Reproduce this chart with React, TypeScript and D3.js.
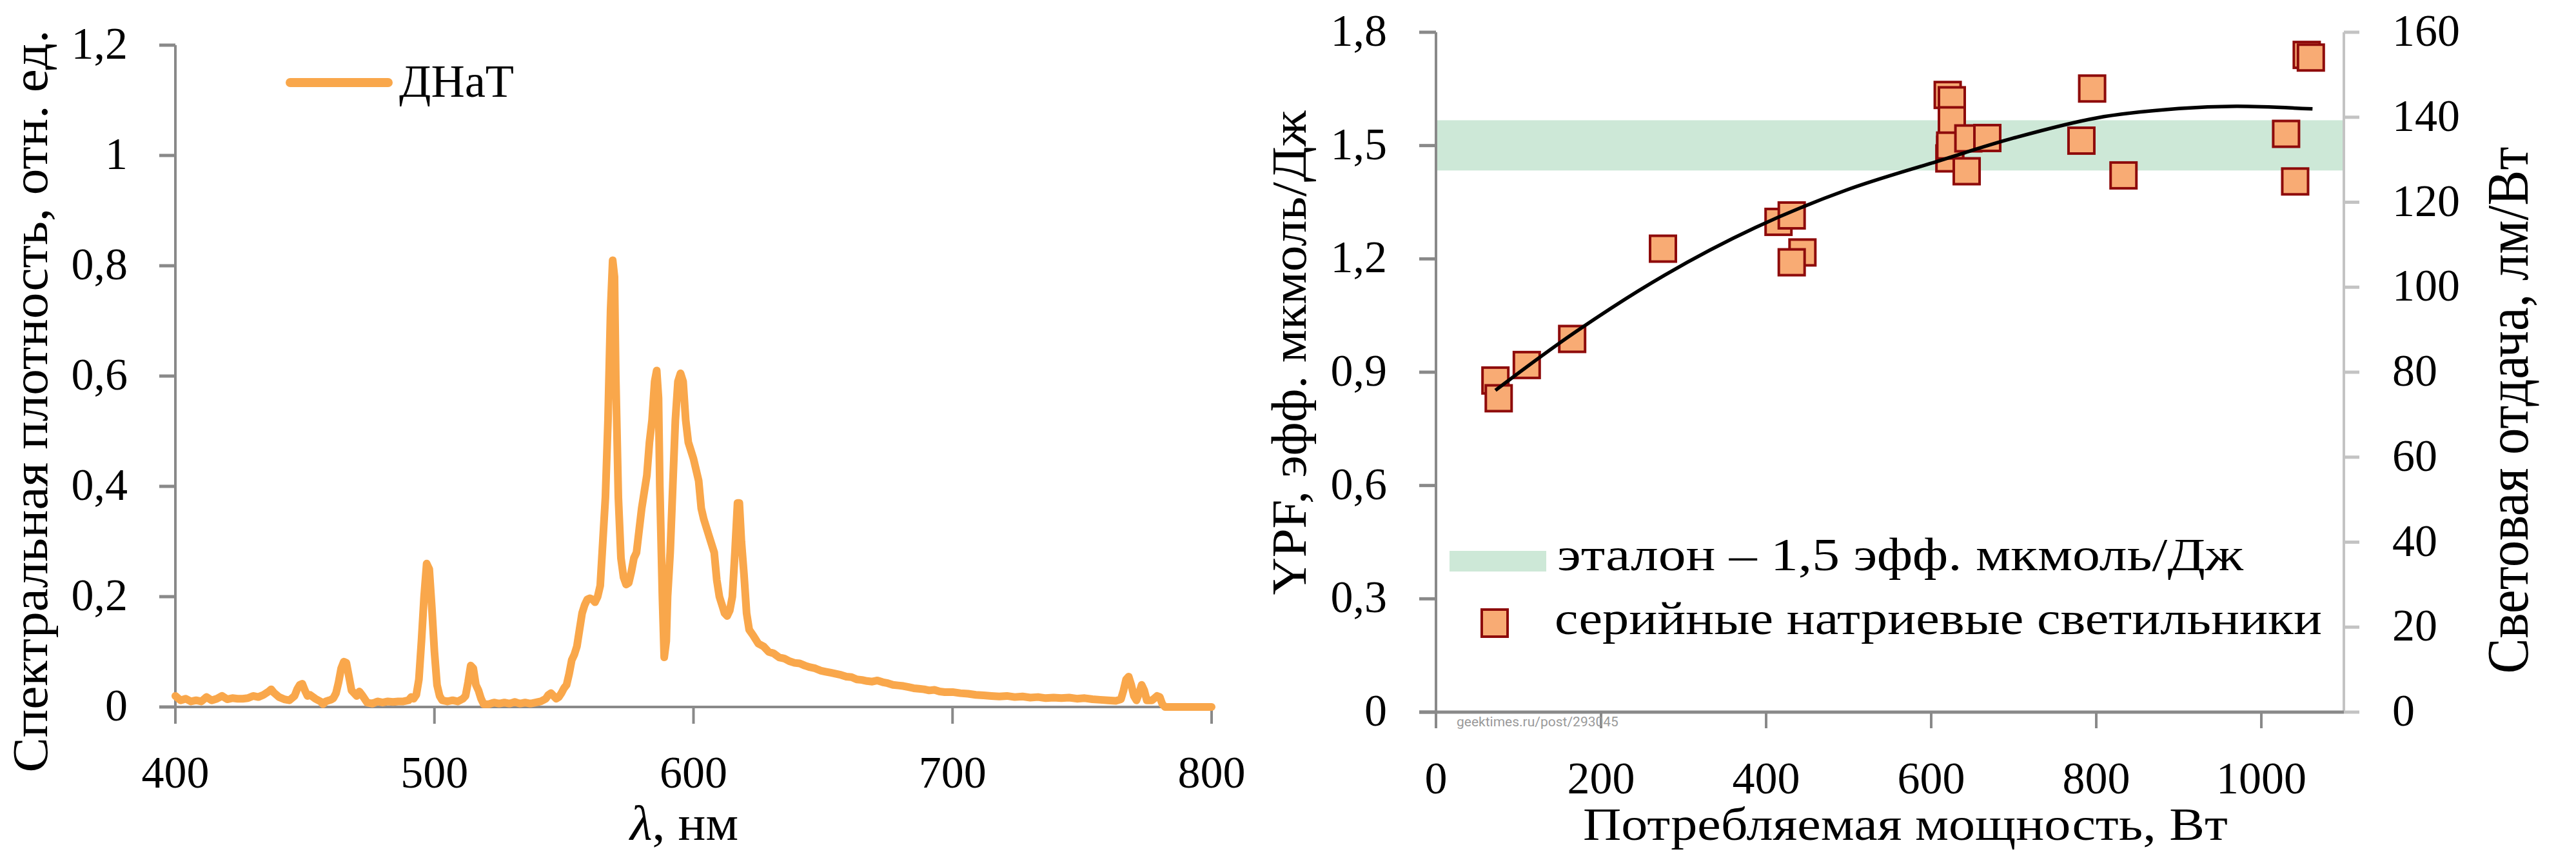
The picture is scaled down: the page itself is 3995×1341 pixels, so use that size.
import React from "react";
import * as d3 from "d3";

// ---- Left chart: HPS (ДНаТ) spectrum ----
const wavelengths = [
  400, 402, 404, 406, 408, 410, 412, 414, 416, 418, 420, 422, 424, 426, 428, 430, 432, 434, 436, 437, 438, 440, 442, 444, 446, 447, 448, 449, 450, 451, 452, 454, 456, 457, 458, 460, 461, 462, 463, 464, 465, 466, 467, 468, 469, 470, 471, 472, 473, 474, 476, 478, 480, 482, 484, 486, 488, 490, 491, 492, 493, 494, 495, 496, 497, 498, 499, 500, 501, 502, 503, 505, 507, 509, 511, 512, 513, 514, 515, 516, 517, 518, 519, 521, 523, 525, 527, 529, 531, 533, 535, 537, 539, 541, 543, 544, 545, 546, 547, 548, 549, 550, 551, 552, 553, 554, 555, 556, 557, 558, 559, 560, 561, 562, 563, 564, 565, 566, 567, 568, 568.8, 569.5, 570, 571, 572, 573, 574, 575, 576, 577, 578, 579, 580, 581, 582, 583, 584, 585, 585.8, 586.5, 587, 588, 588.7, 589.5, 590, 591, 592, 593, 594, 595, 596, 597, 598, 600, 602, 603, 604, 606, 608, 609, 610, 611, 612, 613, 614, 615, 616, 617, 617.7, 618.5, 619.5, 620.5, 621.5, 623, 625, 627, 629, 631, 633, 635, 637, 639, 641, 643, 645, 647, 649, 651, 653, 655, 657, 659, 661, 663, 665, 667, 669, 671, 673, 675, 677, 679, 681, 683, 685, 687, 689, 691, 693, 695, 697, 700, 703, 706, 709, 712, 715, 718, 721, 724, 727, 730, 733, 736, 739, 742, 745, 748, 751, 754, 757, 760, 763, 765, 766, 767, 768, 769, 770, 771, 772, 773, 774, 775, 777, 779, 780, 781, 782, 790, 800,
];
const intensity = [
  0.02, 0.012, 0.015, 0.01, 0.012, 0.01, 0.018, 0.012, 0.015, 0.02, 0.014, 0.016, 0.015, 0.015, 0.016, 0.02, 0.018, 0.022, 0.028, 0.032, 0.026, 0.018, 0.014, 0.012, 0.02, 0.032, 0.04, 0.042, 0.03, 0.02, 0.022, 0.015, 0.01, 0.005, 0.01, 0.013, 0.016, 0.025, 0.045, 0.07, 0.082, 0.08, 0.055, 0.03, 0.025, 0.02, 0.028, 0.022, 0.015, 0.008, 0.006, 0.01, 0.008, 0.01, 0.009, 0.01, 0.01, 0.012, 0.018, 0.015, 0.022, 0.05, 0.12, 0.2, 0.26, 0.25, 0.18, 0.1, 0.04, 0.02, 0.012, 0.01, 0.012, 0.01, 0.015, 0.02, 0.045, 0.075, 0.07, 0.04, 0.03, 0.015, 0.005, 0.005, 0.008, 0.006, 0.008, 0.006, 0.009, 0.006, 0.008, 0.006, 0.008, 0.01, 0.015, 0.022, 0.025, 0.02, 0.015, 0.018, 0.025, 0.034, 0.04, 0.06, 0.085, 0.095, 0.11, 0.14, 0.17, 0.185, 0.195, 0.197, 0.195, 0.19, 0.2, 0.22, 0.3, 0.38, 0.52, 0.72, 0.81, 0.78, 0.6, 0.38, 0.27, 0.235, 0.222, 0.225, 0.245, 0.27, 0.28, 0.32, 0.36, 0.39, 0.42, 0.48, 0.52, 0.59, 0.61, 0.56, 0.4, 0.2, 0.09, 0.12, 0.2, 0.28, 0.4, 0.52, 0.59, 0.605, 0.59, 0.52, 0.48, 0.45, 0.41, 0.36, 0.34, 0.31, 0.28, 0.23, 0.2, 0.185, 0.17, 0.165, 0.175, 0.2, 0.28, 0.37, 0.37, 0.3, 0.24, 0.17, 0.14, 0.13, 0.115, 0.11, 0.1, 0.097, 0.09, 0.088, 0.083, 0.08, 0.079, 0.075, 0.072, 0.07, 0.066, 0.064, 0.062, 0.06, 0.058, 0.055, 0.054, 0.05, 0.049, 0.047, 0.046, 0.048, 0.045, 0.043, 0.04, 0.039, 0.038, 0.036, 0.034, 0.033, 0.032, 0.03, 0.031, 0.028, 0.027, 0.027, 0.025, 0.024, 0.022, 0.021, 0.02, 0.019, 0.02, 0.018, 0.019, 0.017, 0.018, 0.016, 0.017, 0.016, 0.017, 0.015, 0.016, 0.014, 0.013, 0.012, 0.011, 0.014, 0.03, 0.05, 0.055, 0.04, 0.02, 0.012, 0.025, 0.04, 0.03, 0.012, 0.012, 0.02, 0.018, 0.005, 0, 0, 0,
];
const spectrumTicksX = [400, 500, 600, 700, 800];
const spectrumTicksY = [0, 0.2, 0.4, 0.6, 0.8, 1, 1.2];

// ---- Right chart: YPF vs power ----
const powerW = [72, 76, 110, 165, 275, 415, 431, 444, 431, 620, 625, 625, 623, 622, 623, 645, 643, 668, 795, 782, 833, 1030, 1041, 1055, 1060];
const ypf = [0.878, 0.831, 0.919, 0.988, 1.227, 1.298, 1.315, 1.217, 1.191, 1.634, 1.62, 1.567, 1.489, 1.466, 1.5, 1.519, 1.432, 1.52, 1.651, 1.513, 1.421, 1.531, 1.405, 1.74, 1.733];
const trendPower = [72, 168, 277, 387, 497, 607, 700, 800, 900, 970, 1062];
const trendYpf = [0.852, 1.005, 1.157, 1.283, 1.382, 1.458, 1.52, 1.573, 1.598, 1.604, 1.597];
const bandLow = 1.434;
const bandHigh = 1.567;
const powerTicks = [0, 200, 400, 600, 800, 1000];
const ypfTicks = [0, 0.3, 0.6, 0.9, 1.2, 1.5, 1.8];
const lmTicks = [0, 20, 40, 60, 80, 100, 120, 140, 160];

const FONT = "'Liberation Serif', 'DejaVu Serif', serif";
const AXIS = "#898989";
const AXIS_LIGHT = "#c3c3c3";
const ORANGE = "#F9A74B";
const fmt = (v: number) => String(v).replace(".", ",");

export default function App() {
  // left chart scales
  const xS = d3.scaleLinear().domain([400, 800]).range([272, 1879]);
  const yS = d3.scaleLinear().domain([0, 1.2]).range([1096, 70]);
  const specData = wavelengths.map((w, i) => [w, intensity[i]] as [number, number]);
  const specLine = d3
    .line<[number, number]>()
    .x((d) => xS(d[0]))
    .y((d) => yS(d[1]))
    .curve(d3.curveLinear)(specData);

  // right chart scales
  const xP = d3.scaleLinear().domain([0, 1100]).range([2227, 3635]);
  const yY = d3.scaleLinear().domain([0, 1.8]).range([1104, 50]);
  const yL = d3.scaleLinear().domain([0, 160]).range([1104, 50]);
  const trendData = trendPower.map((p, i) => [p, trendYpf[i]] as [number, number]);
  const trendLine = d3
    .line<[number, number]>()
    .x((d) => xP(d[0]))
    .y((d) => yY(d[1]))
    .curve(d3.curveCatmullRom)(trendData);
  const M = 40;

  return (
    <svg
      width={3995}
      height={1341}
      style={{ position: "absolute", left: 0, top: 0, background: "#fff" }}
      fontFamily={FONT}
    >
      <rect x={0} y={0} width={3995} height={1341} fill="#fff" />

      {/* ===== LEFT CHART ===== */}
      <line x1={xS(400)} x2={xS(400)} y1={yS(1.2)} y2={yS(0)} stroke={AXIS} strokeWidth={4} />
      <line x1={xS(400) - 25} x2={xS(800)} y1={yS(0)} y2={yS(0)} stroke={AXIS} strokeWidth={4} />
      {spectrumTicksY.map((t) => (
        <g key={"ly" + t}>
          <line x1={xS(400) - 25} x2={xS(400)} y1={yS(t)} y2={yS(t)} stroke={AXIS} strokeWidth={5} />
          <text x={198} y={yS(t) + 21} fontSize={70} textAnchor="end" fill="#000">
            {fmt(t)}
          </text>
        </g>
      ))}
      {spectrumTicksX.map((t) => (
        <g key={"lx" + t}>
          <line x1={xS(t)} x2={xS(t)} y1={yS(0)} y2={yS(0) + 26} stroke={AXIS} strokeWidth={4} />
          <text x={xS(t)} y={1221} fontSize={70} textAnchor="middle" fill="#000">
            {t}
          </text>
        </g>
      ))}
      <path d={specLine || ""} fill="none" stroke={ORANGE} strokeWidth={12} strokeLinejoin="round" strokeLinecap="round" />
      {/* legend */}
      <line x1={450} x2={602} y1={128} y2={128} stroke={ORANGE} strokeWidth={14} strokeLinecap="round" />
      <text x={619} y={150} fontSize={72} fill="#000" textLength={178} lengthAdjust="spacingAndGlyphs">ДНаТ</text>
      {/* axis titles */}
      <text
        transform={`translate(73, 622) rotate(-90)`}
        fontSize={78}
        textAnchor="middle"
        fill="#000"
        textLength={1151}
        lengthAdjust="spacingAndGlyphs"
      >
        Спектральная плотность, отн. ед.
      </text>
      <text x={977} y={1302} fontSize={76} fill="#000" textLength={168} lengthAdjust="spacingAndGlyphs">
        <tspan fontStyle="italic">λ</tspan>, нм
      </text>

      {/* ===== RIGHT CHART ===== */}
      <rect x={xP(0) + 2} y={yY(bandHigh)} width={xP(1100) - xP(0) - 2} height={yY(bandLow) - yY(bandHigh)} fill="#CDE8D7" />
      <line x1={xP(0)} x2={xP(0)} y1={yY(1.8)} y2={yY(0)} stroke={AXIS} strokeWidth={4} />
      {ypfTicks.map((t) => (
        <g key={"ry" + t}>
          <line x1={xP(0) - 26} x2={xP(0)} y1={yY(t)} y2={yY(t)} stroke={AXIS} strokeWidth={5} />
          <text x={2151} y={yY(t) + 21} fontSize={70} textAnchor="end" fill="#000">
            {fmt(t)}
          </text>
        </g>
      ))}
      <line x1={xP(1100)} x2={xP(1100)} y1={yL(160)} y2={yL(0)} stroke={AXIS_LIGHT} strokeWidth={4} />
      {lmTicks.map((t) => (
        <g key={"rl" + t}>
          <line x1={xP(1100)} x2={xP(1100) + 24} y1={yL(t)} y2={yL(t)} stroke={AXIS_LIGHT} strokeWidth={5} />
          <text x={3710} y={yL(t) + 21} fontSize={70} textAnchor="start" fill="#000">
            {t}
          </text>
        </g>
      ))}
      <line x1={xP(0) - 26} x2={xP(1100)} y1={yY(0)} y2={yY(0)} stroke={AXIS} strokeWidth={5} />
      {powerTicks.map((t) => (
        <g key={"rx" + t}>
          <line x1={xP(t)} x2={xP(t)} y1={yY(0)} y2={yY(0) + 25} stroke={AXIS} strokeWidth={4} />
          <text x={xP(t)} y={1230} fontSize={70} textAnchor="middle" fill="#000">
            {t}
          </text>
        </g>
      ))}
      {powerW.map((p, i) => (
        <rect
          key={"m" + i}
          x={xP(p) - M / 2}
          y={yY(ypf[i]) - M / 2}
          width={M}
          height={M}
          fill="#F8AB74"
          stroke="#8E0B0B"
          strokeWidth={4}
        />
      ))}
      <path d={trendLine || ""} fill="none" stroke="#000" strokeWidth={5.5} />
      <text x={2259} y={1126} fontSize={21} fill="#9a9a9a" fontFamily="'Liberation Sans Narrow', 'Roboto', sans-serif">
        geektimes.ru/post/293045
      </text>
      {/* legend */}
      <rect x={2248} y={854} width={150} height={32} fill="#CDE8D7" />
      <text x={2415} y={884} fontSize={72} fill="#000" textLength={1064} lengthAdjust="spacingAndGlyphs">
        эталон – 1,5 эфф. мкмоль/Дж
      </text>
      <rect x={2298} y={945} width={40} height={42} fill="#F8AB74" stroke="#8E0B0B" strokeWidth={4} />
      <text x={2411} y={983} fontSize={72} fill="#000" textLength={1190} lengthAdjust="spacingAndGlyphs">
        серийные натриевые светильники
      </text>
      {/* axis titles */}
      <text
        transform={`translate(2025, 547) rotate(-90)`}
        fontSize={76}
        textAnchor="middle"
        fill="#000"
        textLength={751}
        lengthAdjust="spacingAndGlyphs"
      >
        YPF, эфф. мкмоль/Дж
      </text>
      <text
        transform={`translate(3920, 636) rotate(-90)`}
        fontSize={90}
        textAnchor="middle"
        fill="#000"
        textLength={817}
        lengthAdjust="spacingAndGlyphs"
      >
        Световая отдача, лм/Вт
      </text>
      <text x={2455} y={1302} fontSize={72} fill="#000" textLength={1000} lengthAdjust="spacingAndGlyphs">
        Потребляемая мощность, Вт
      </text>
    </svg>
  );
}
